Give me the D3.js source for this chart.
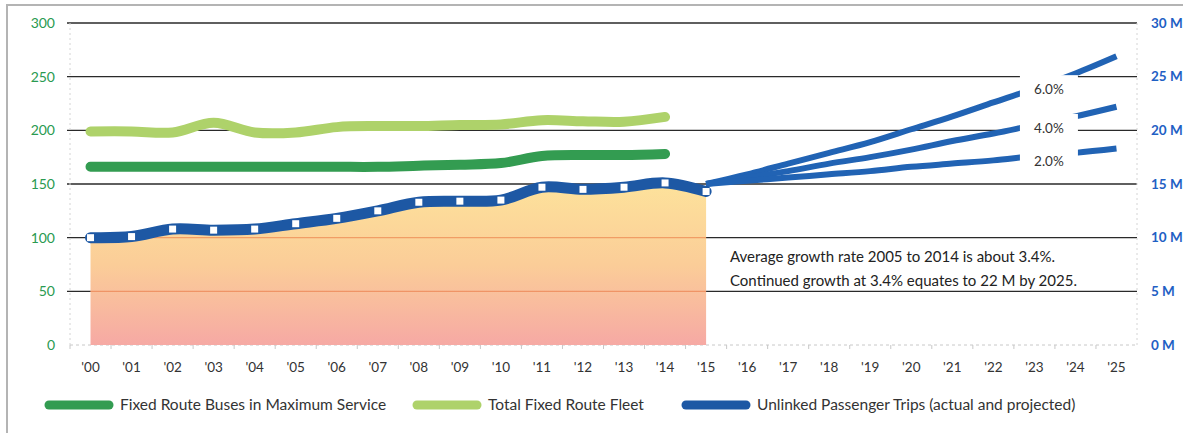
<!doctype html>
<html>
  <head>
    <meta charset="utf-8">
    <script src="https://cdn.jsdelivr.net/npm/d3@7/dist/d3.min.js"></script>
    <style>
      body { margin: 0; background: #fff; }
      text { font-family: Lato, "Open Sans", sans-serif; }
    </style>
  </head>
  <body>
    <div id="chart"></div>
    <script>
      // year labels '00 .. '25
      const years = ["'00","'01","'02","'03","'04","'05","'06","'07","'08","'09","'10","'11","'12",
                     "'13","'14","'15","'16","'17","'18","'19","'20","'21","'22","'23","'24","'25"];

      // left axis (buses), 2000-2014
      const busesMax = [166, 166, 166, 166, 166, 166, 166, 166, 167, 168, 169.5, 176, 177, 177, 178];
      const fleet    = [199, 199, 198, 207, 198, 198, 203, 204, 204, 205, 205.5, 209.5, 208.5, 208, 212.5];

      // right axis (millions), 2000-2015
      const trips = [10.0, 10.1, 10.8, 10.7, 10.8, 11.3, 11.8, 12.5, 13.3, 13.4, 13.5, 14.7, 14.5, 14.7, 15.1, 14.3];

      // projections 2015-2025 (millions)
      const projLabels = ["6.0%", "4.0%", "2.0%"];
      const proj6 = [15.0, 15.9, 16.9, 17.9, 18.9, 20.1, 21.3, 22.6, 23.9, 25.3, 26.9];
      const proj4 = [15.0, 15.6, 16.2, 16.9, 17.5, 18.2, 19.0, 19.7, 20.5, 21.3, 22.2];
      const proj2 = [15.0, 15.3, 15.6, 15.9, 16.2, 16.6, 16.9, 17.2, 17.6, 17.9, 18.3];

      const leftTicks = [0, 50, 100, 150, 200, 250, 300];
      const rightTicks = [0, 5, 10, 15, 20, 25, 30];

      const legendItems = ["Fixed Route Buses in Maximum Service", "Total Fixed Route Fleet",
                           "Unlinked Passenger Trips (actual and projected)"];
      const note = ["Average growth rate 2005 to 2014 is about 3.4%.",
                    "Continued growth at 3.4% equates to 22 M by 2025."];

      (function() {
        const W = 1183, H = 433;
        const plotL = 70, plotR = 1137, plotT = 23, plotB = 345;

        const svg = d3.select("#chart").append("svg")
          .attr("width", W)
          .attr("height", H);

        // frame
        svg.append("path")
          .attr("d", "M7," + H + "V5H" + W)
          .attr("fill", "none")
          .attr("stroke", "#b4b4b4")
          .attr("stroke-width", 2);

        const x = d3.scalePoint().domain(years).range([plotL, plotR]).padding(0.5);
        const yL = d3.scaleLinear().domain([0, 300]).range([plotB, plotT]);
        const yR = d3.scaleLinear().domain([0, 30]).range([plotB, plotT]);

        // gridlines
        svg.append("g").selectAll("line")
          .data(leftTicks.filter(d => d > 0))
          .join("line")
            .attr("x1", plotL - 3)
            .attr("x2", plotR)
            .attr("y1", d => yL(d))
            .attr("y2", d => yL(d))
            .attr("stroke", "#2a2a2a")
            .attr("stroke-width", 1.3);

        svg.append("line")
          .attr("x1", plotL).attr("x2", plotR)
          .attr("y1", yL(0)).attr("y2", yL(0))
          .attr("stroke", "#c8c8c8")
          .attr("stroke-dasharray", "3,3");

        [plotL, plotR].forEach(xx => {
          svg.append("line")
            .attr("x1", xx).attr("x2", xx)
            .attr("y1", plotT).attr("y2", plotB)
            .attr("stroke", "#d4d4d4")
            .attr("stroke-dasharray", "2,3");
        });

        // x ticks between categories
        svg.append("g").selectAll("line")
          .data(years)
          .join("line")
            .attr("x1", d => x(d) - x.step() / 2)
            .attr("x2", d => x(d) - x.step() / 2)
            .attr("y1", plotB)
            .attr("y2", plotB + 4)
            .attr("stroke", "#c8c8c8");

        // area gradient
        const defs = svg.append("defs");
        const grad = defs.append("linearGradient")
          .attr("id", "fillGrad")
          .attr("gradientUnits", "userSpaceOnUse")
          .attr("x1", 0).attr("x2", 0)
          .attr("y1", yR(15)).attr("y2", yR(0));
        grad.append("stop").attr("offset", "0%").attr("stop-color", "#fde29b");
        grad.append("stop").attr("offset", "50%").attr("stop-color", "#fbcd98");
        grad.append("stop").attr("offset", "100%").attr("stop-color", "#f6a9a4");

        const tripPts = trips.map((v, i) => [years[i], v]);

        const area = d3.area()
          .x(d => x(d[0]))
          .y0(yR(0))
          .y1(d => yR(d[1]))
          .curve(d3.curveCatmullRom.alpha(0.5));

        svg.append("path")
          .datum(tripPts)
          .attr("d", area)
          .attr("fill", "url(#fillGrad)");

        // gridlines seen through the fill
        svg.append("g").selectAll("line")
          .data([50, 100])
          .join("line")
            .attr("x1", x(years[0]))
            .attr("x2", x(years[trips.length - 1]))
            .attr("y1", d => yL(d))
            .attr("y2", d => yL(d))
            .attr("stroke", "#e8703a")
            .attr("stroke-opacity", 0.55)
            .attr("stroke-width", 1.2);

        // green series
        const lineL = d3.line()
          .x((d, i) => x(years[i]))
          .y(d => yL(d))
          .curve(d3.curveCatmullRom.alpha(0.5));

        svg.append("path")
          .datum(fleet)
          .attr("d", lineL)
          .attr("fill", "none")
          .attr("stroke", "#aed26a")
          .attr("stroke-width", 10)
          .attr("stroke-linecap", "round");

        svg.append("path")
          .datum(busesMax)
          .attr("d", lineL)
          .attr("fill", "none")
          .attr("stroke", "#339c51")
          .attr("stroke-width", 10)
          .attr("stroke-linecap", "round");

        // projections
        const startIdx = trips.length - 1;
        const lineP = d3.line()
          .x((d, i) => x(years[startIdx + i]))
          .y(d => yR(d))
          .curve(d3.curveCatmullRom.alpha(0.5));

        const projections = [proj6, proj4, proj2];
        svg.append("g").selectAll("path")
          .data(projections)
          .join("path")
            .attr("d", lineP)
            .attr("fill", "none")
            .attr("stroke", "#2163b4")
            .attr("stroke-width", 6);

        // actual trips line
        const lineR = d3.line()
          .x(d => x(d[0]))
          .y(d => yR(d[1]))
          .curve(d3.curveCatmullRom.alpha(0.5));

        svg.append("path")
          .datum(tripPts)
          .attr("d", lineR)
          .attr("fill", "none")
          .attr("stroke", "#1d58a4")
          .attr("stroke-width", 11)
          .attr("stroke-linecap", "round");

        svg.append("g").selectAll("rect")
          .data(tripPts)
          .join("rect")
            .attr("x", d => x(d[0]) - 3.5)
            .attr("y", d => yR(d[1]) - 3.5)
            .attr("width", 7)
            .attr("height", 7)
            .attr("fill", "#fff");

        // projection labels with white boxes
        const labX = (x(years[23]) + x(years[24])) / 2 - 6;
        const frac = (labX - x(years[startIdx])) / x.step();
        const k = Math.floor(frac), t = frac - k;
        const labG = svg.append("g").selectAll("g")
          .data(projections.map((p, i) => ({ label: projLabels[i], v: p[k] + (p[k + 1] - p[k]) * t })))
          .join("g")
            .attr("transform", d => "translate(" + labX + "," + (yR(d.v) + 6) + ")");
        labG.append("rect")
          .attr("x", -29).attr("y", -14)
          .attr("width", 58).attr("height", 28)
          .attr("fill", "#fff");
        labG.append("text")
          .attr("text-anchor", "middle")
          .attr("dy", "0.35em")
          .attr("font-size", 13.5)
          .attr("fill", "#333")
          .text(d => d.label);

        // axis labels
        svg.append("g").selectAll("text")
          .data(leftTicks)
          .join("text")
            .attr("x", 55)
            .attr("y", d => yL(d))
            .attr("dy", "0.35em")
            .attr("text-anchor", "end")
            .attr("font-size", 14)
            .attr("fill", "#2a9a50")
            .text(d => d);

        svg.append("g").selectAll("text")
          .data(rightTicks)
          .join("text")
            .attr("x", 1151)
            .attr("y", d => yR(d))
            .attr("dy", "0.35em")
            .attr("font-size", 13.5)
            .attr("font-weight", "bold")
            .attr("fill", "#1f60c4")
            .text(d => d + " M");

        svg.append("g").selectAll("text")
          .data(years)
          .join("text")
            .attr("x", d => x(d))
            .attr("y", 367)
            .attr("dy", "0.35em")
            .attr("text-anchor", "middle")
            .attr("font-size", 13.5)
            .attr("fill", "#333")
            .text(d => d);

        // note
        svg.append("g").selectAll("text")
          .data(note)
          .join("text")
            .attr("x", 730)
            .attr("y", (d, i) => 257 + i * 24)
            .attr("dy", "0.35em")
            .attr("font-size", 15)
            .attr("fill", "#222")
            .text(d => d);

        // legend
        const legendColors = ["#339c51", "#aed26a", "#1d58a4"];
        const legendX = [49, 417, 686];
        const lg = svg.append("g").selectAll("g")
          .data(legendItems)
          .join("g")
            .attr("transform", (d, i) => "translate(" + legendX[i] + ",405)");
        lg.append("line")
          .attr("x1", 0).attr("x2", 60)
          .attr("stroke", (d, i) => legendColors[i])
          .attr("stroke-width", 9)
          .attr("stroke-linecap", "round");
        lg.append("text")
          .attr("x", 71)
          .attr("dy", "0.35em")
          .attr("font-size", 15.5)
          .attr("fill", "#333")
          .text(d => d);
      })();
    </script>
  </body>
</html>
